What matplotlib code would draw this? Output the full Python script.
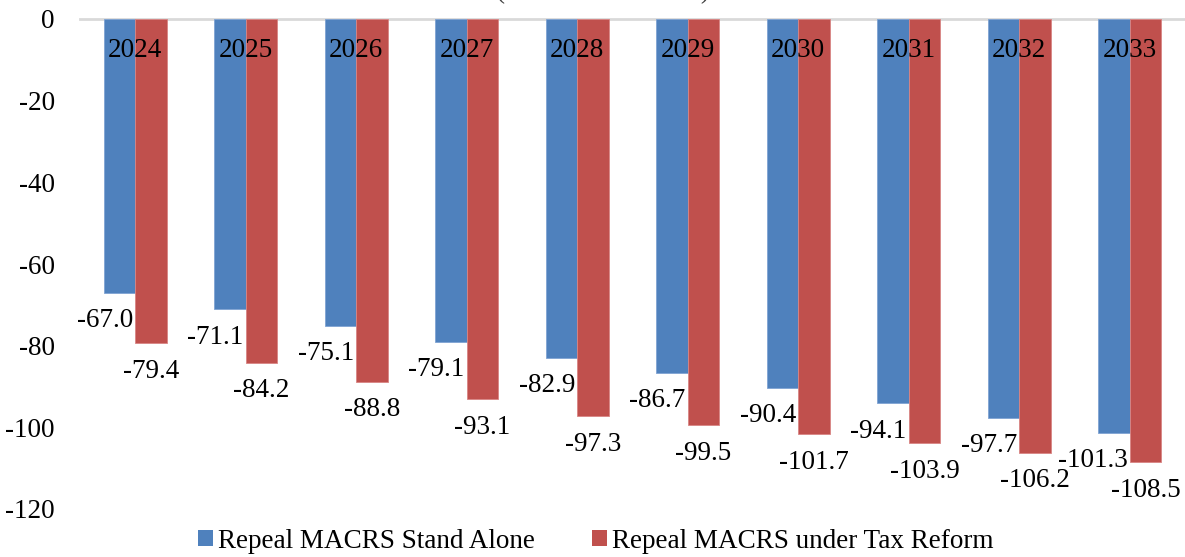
import matplotlib
matplotlib.use("Agg")
import matplotlib.pyplot as plt
import numpy as np
from matplotlib.patches import Patch

years = ["2024", "2025", "2026", "2027", "2028", "2029", "2030", "2031", "2032", "2033"]
stand_alone = [-67.0, -71.1, -75.1, -79.1, -82.9, -86.7, -90.4, -94.1, -97.7, -101.3]
tax_reform = [-79.4, -84.2, -88.8, -93.1, -97.3, -99.5, -101.7, -103.9, -106.2, -108.5]
series_names = ["Repeal MACRS Stand Alone", "Repeal MACRS under Tax Reform"]
yticks = [0, -20, -40, -60, -80, -100, -120]
title = "(Billions of dollars)"

blue = "#4F81BD"
red = "#C0504D"
FS = 19.5

plt.rcParams['font.family'] = ['Liberation Serif', 'DejaVu Serif']

W, H = 1185, 557
fig = plt.figure(figsize=(W / 100, H / 100), dpi=100)
ax = fig.add_axes([80 / W, 1 - 509 / H, (1185 - 80) / W, (509 - 19) / H])

x = np.arange(len(years))
bw = 0.287
ax.bar(x - bw / 2, stand_alone, bw, color=blue, edgecolor="#7FA3D3", linewidth=0.6, zorder=2)
ax.bar(x + bw / 2, tax_reform, bw, color=red, edgecolor="#D98584", linewidth=0.6, zorder=2)

for xi, v in zip(x, stand_alone):
    ax.annotate(f"{v:.1f}", (xi, v), xytext=(-1.5, -20.0), textcoords="offset points",
                ha="right", va="center", fontsize=FS, zorder=3)
for xi, v in zip(x, tax_reform):
    ax.annotate(f"{v:.1f}", (xi + bw / 2, v), xytext=(0, -20.2), textcoords="offset points",
                ha="center", va="center", fontsize=FS, zorder=3)

for xi, yr in zip(x, years):
    ax.text(xi, -7.8, yr, ha="center", va="center", fontsize=FS, zorder=3)

ax.set_xlim(-0.5, 9.5)
ax.set_ylim(-120, 0)
ax.set_yticks(yticks)
ax.set_yticklabels([str(t) for t in yticks], fontsize=FS)
ax.tick_params(axis="y", length=0, pad=18)
ax.set_xticks([])
for s in ["left", "right", "bottom"]:
    ax.spines[s].set_visible(False)
ax.spines["top"].set_visible(True)
ax.spines["top"].set_color("#D9D9D9")
ax.spines["top"].set_linewidth(2)
ax.spines["top"].set_zorder(1)

fig.text(603 / W, 1 + 1.5 / H, title, ha="center", va="baseline", fontsize=FS, color="#404040")

handles = [Patch(facecolor=blue), Patch(facecolor=red)]
fig.legend(handles, series_names, loc="center", bbox_to_anchor=(596 / W, 1 - 541 / H),
           ncol=2, frameon=False, fontsize=FS, handlelength=0.55, handleheight=0.55,
           handletextpad=0.2, columnspacing=2.1)

fig.savefig("out.png", dpi=100)
